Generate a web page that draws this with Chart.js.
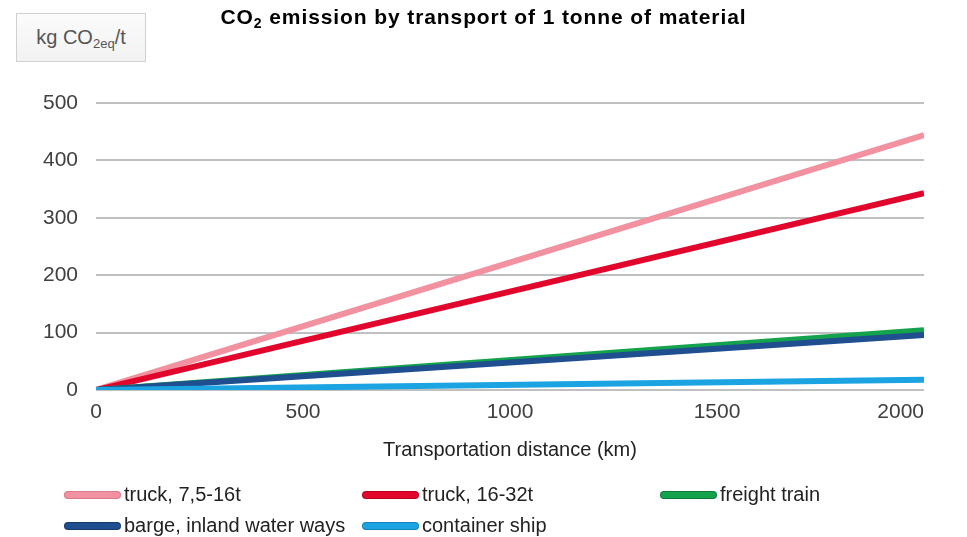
<!DOCTYPE html>
<html><head><meta charset="utf-8">
<script src="https://cdn.jsdelivr.net/npm/chart.js@4"></script>
<style>
html,body{margin:0;padding:0;background:#fff;}
#wrap{position:relative;width:967px;height:537px;overflow:hidden;font-family:"Liberation Sans",Arial,sans-serif;}
#c{position:absolute;left:0;top:0;}
#title{position:absolute;left:0;width:967px;top:5px;text-align:center;font-weight:bold;font-size:21px;letter-spacing:0.9px;color:#000;}
#unit{position:absolute;left:16px;top:13px;width:128px;height:47px;border:1px solid #d0d0d0;background:linear-gradient(#fbfbfb,#f2f2f2);color:#555;font-size:20px;line-height:47px;text-align:center;}
#unit sub{font-size:13px;vertical-align:-4px;line-height:0;}
.lg{position:absolute;font-size:20px;color:#222;white-space:nowrap;}
.sw{position:absolute;width:55px;height:6px;border-radius:4px;}
</style></head><body>
<div id="wrap">
<canvas id="c" width="967" height="537"></canvas>
<div id="title">CO<sub style="font-size:14px;vertical-align:-4px;line-height:0">2</sub> emission by transport of 1 tonne of material</div>
<div id="unit">kg CO<sub>2eq</sub>/t</div>
<div id="legend"></div>
</div>
<script>
const distances = [0, 2000];
const seriesNames = ["truck, 7,5-16t", "truck, 16-32t", "freight train", "barge, inland water ways", "container ship"];
const truckSmall = [0, 444];
const truckLarge = [0, 343];
const freightTrain = [0, 104];
const barge = [0, 96];
const containerShip = [0, 18];
const yTicks = [0, 100, 200, 300, 400, 500];
const xTicks = [0, 500, 1000, 1500, 2000];

const colors = ["#f2919f", "#e3062c", "#14a24c", "#1f4f8e", "#1ba3e2"];
const edges = ["#d9788a", "#b8001f", "#0c7a38", "#163a6c", "#1382b8"];
const values = [truckSmall, truckLarge, freightTrain, barge, containerShip];

const datasets = values.map((v, i) => ({
  label: seriesNames[i],
  data: v.map((y, k) => ({x: distances[k], y})),
  borderColor: colors[i],
  borderWidth: 6,
  pointRadius: 0,
  tension: 0,
  order: i === 4 ? 0 : (5 - i)
}));

new Chart(document.getElementById('c'), {
  type: 'line',
  data: {datasets},
  options: {
    responsive: false,
    animation: false,
    layout: {padding: {left: 0, right: 43, top: 103, bottom: 72}},
    plugins: {legend: {display: false}, title: {display: false}, tooltip: {enabled: false}},
    scales: {
      x: {
        type: 'linear', min: 0, max: 2000,
        afterBuildTicks(s) { s.ticks = xTicks.map(v => ({value: v})); },
        afterFit(s) { s.height = 75; s.paddingRight = 0; s.paddingLeft = 0; },
        grid: {display: false, drawTicks: false},
        border: {display: false},
        ticks: {color: '#404040', font: {family: 'Liberation Sans', size: 21}, padding: 10, maxRotation: 0,
          callback: v => v === xTicks[xTicks.length - 1] ? String(v) + '        ' : String(v)},
        title: {display: true, text: 'Transportation distance (km)', color: '#222', font: {family: 'Liberation Sans', size: 20}, padding: {top: 0, bottom: 3}}
      },
      y: {
        min: 0, max: 500,
        afterBuildTicks(s) { s.ticks = yTicks.map(v => ({value: v})); },
        afterFit(s) { s.width = 96; },
        grid: {color: '#c0c0c0', lineWidth: 2, drawTicks: false},
        border: {display: false},
        ticks: {color: '#404040', font: {family: 'Liberation Sans', size: 21}, padding: 18, callback: v => String(v)}
      }
    }
  }
});

const legendPos = [[65, 496], [363, 496], [661, 496], [65, 527], [363, 527]];
const lg = document.getElementById('legend');
seriesNames.forEach((n, i) => {
  const [x, y] = legendPos[i];
  const sw = document.createElement('div');
  sw.className = 'sw';
  sw.style.left = x + 'px'; sw.style.top = (y - 4) + 'px';
  sw.style.background = colors[i];
  sw.style.boxShadow = '0 0 0 1px ' + edges[i];
  lg.appendChild(sw);
  const t = document.createElement('div');
  t.className = 'lg';
  t.textContent = n;
  t.style.left = (x + 59) + 'px'; t.style.top = (y - 13) + 'px';
  lg.appendChild(t);
});
</script>
</body></html>
